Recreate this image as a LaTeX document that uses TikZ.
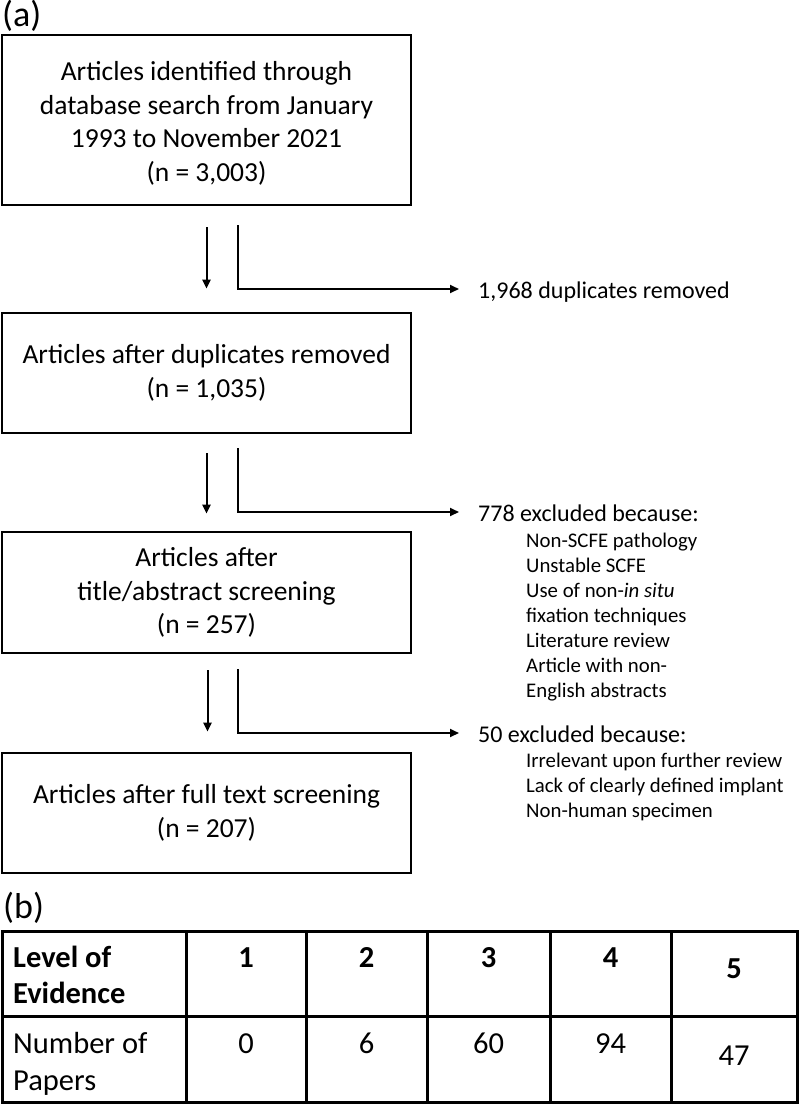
\documentclass[tikz,border=0pt]{standalone}
\usepackage{fontspec}
\setmainfont{Carlito}
\usetikzlibrary{arrows.meta}
\begin{document}
\begin{tikzpicture}[x=1pt,y=-1pt,
  box/.style={draw, line width=2.7pt, minimum width=409pt, inner sep=0pt, align=center,
    font=\fontsize{27.5}{33.5}\selectfont},
  arr/.style={line width=2pt, -{Triangle[length=9pt,width=8pt]}},
  elbow/.style={line width=2pt, -{Triangle[length=9pt,width=8pt]}},
  side/.style={anchor=base west, inner sep=0pt, font=\fontsize{24}{29}\selectfont},
  item/.style={anchor=base west, inner sep=0pt, font=\fontsize{20.8}{25}\selectfont},
  lab/.style={anchor=base west, inner sep=0pt, font=\fontsize{36}{42}\selectfont},
  tabtxt/.style={anchor=base, inner sep=0pt, font=\fontsize{30.5}{37}\selectfont},
  tabhead/.style={tabtxt, font=\fontsize{30.5}{37}\selectfont\bfseries},
  tabrule/.style={line width=3pt},
]
\useasboundingbox (0,0) rectangle (800,1105);

% labels
\node[lab] (la) at (2,27) {(a)};
\node[lab] (lb) at (3,918) {(b)};

% boxes
\node[box, minimum height=170pt] (b1) at (206.5,120)
  {\rule{0pt}{26pt}Articles identified through\\database search from January\\1993 to November 2021\\(n = 3,003)};
\node[box, minimum height=120pt] (b2) at (206.5,373)
  {Articles after duplicates removed\\(n = 1,035)};
\node[box, minimum height=121pt] (b3) at (206.5,592.5)
  {Articles after\\title/abstract screening\\(n = 257)};
\node[box, minimum height=120pt] (b4) at (206.5,813)
  {Articles after full text screening\\(n = 207)};

% side texts
\node[side] (x1) at (478,298) {1,968 duplicates removed};
\node[side] (x2) at (478,521) {778 excluded because:};
\node[side] (x3) at (478,742) {50 excluded because:};

\node[item] (i21) at (526,547) {Non-SCFE pathology};
\node[item] (i22) at (526,572) {Unstable SCFE};
\node[item] (i23) at (526,597) {Use of non-\textit{in situ}};
\node[item] (i24) at (526,622) {fixation techniques};
\node[item] (i25) at (526,647) {Literature review};
\node[item] (i26) at (526,672) {Article with non-};
\node[item] (i27) at (526,697) {English abstracts};

\node[item] (i31) at (526,767) {Irrelevant upon further review};
\node[item] (i32) at (526,792) {Lack of clearly defined implant};
\node[item] (i33) at (526,817) {Non-human specimen};

% down arrows
\draw[arr] ([yshift=-21pt]b1.south) -- ([yshift=23pt]b2.north);
\draw[arr] ([yshift=-19pt]b2.south) -- ([yshift=17pt]b3.north);
\draw[arr] ([xshift=1pt,yshift=-16pt]b3.south) -- ([xshift=1pt,yshift=20pt]b4.north);

% elbow arrows
\draw[elbow] ([xshift=31.5pt,yshift=-19pt]b1.south) |- ([xshift=-19pt,yshift=9pt]x1.base west);
\draw[elbow] ([xshift=31.5pt,yshift=-14pt]b2.south) |- ([xshift=-19pt,yshift=9pt]x2.base west);
\draw[elbow] ([xshift=31.5pt,yshift=-15pt]b3.south) |- ([xshift=-19pt,yshift=9pt]x3.base west);

% table
\draw[tabrule] (2,931) rectangle (797,1102);
\draw[tabrule] (2,1016) -- (797,1016);
\foreach \cx in {186,306,427,550,671}
  \draw[tabrule] (\cx,931) -- (\cx,1102);

\node[tabhead, anchor=base west] (h0a) at (13,967) {Level of};
\node[tabhead, anchor=base west] (h0b) at (13,1003) {Evidence};
\node[tabhead] (h1) at (246,967) {1};
\node[tabhead] (h2) at (366.5,967) {2};
\node[tabhead] (h3) at (488.5,967) {3};
\node[tabhead] (h4) at (610.5,967) {4};
\node[tabhead] (h5) at (734,978) {5};

\node[tabtxt, anchor=base west] (r0a) at (13,1053) {Number of};
\node[tabtxt, anchor=base west] (r0b) at (13,1090) {Papers};
\node[tabtxt] (r1) at (246,1053) {0};
\node[tabtxt] (r2) at (366.5,1053) {6};
\node[tabtxt] (r3) at (488.5,1053) {60};
\node[tabtxt] (r4) at (610.5,1053) {94};
\node[tabtxt] (r5) at (734,1065) {47};
\end{tikzpicture}
\end{document}
